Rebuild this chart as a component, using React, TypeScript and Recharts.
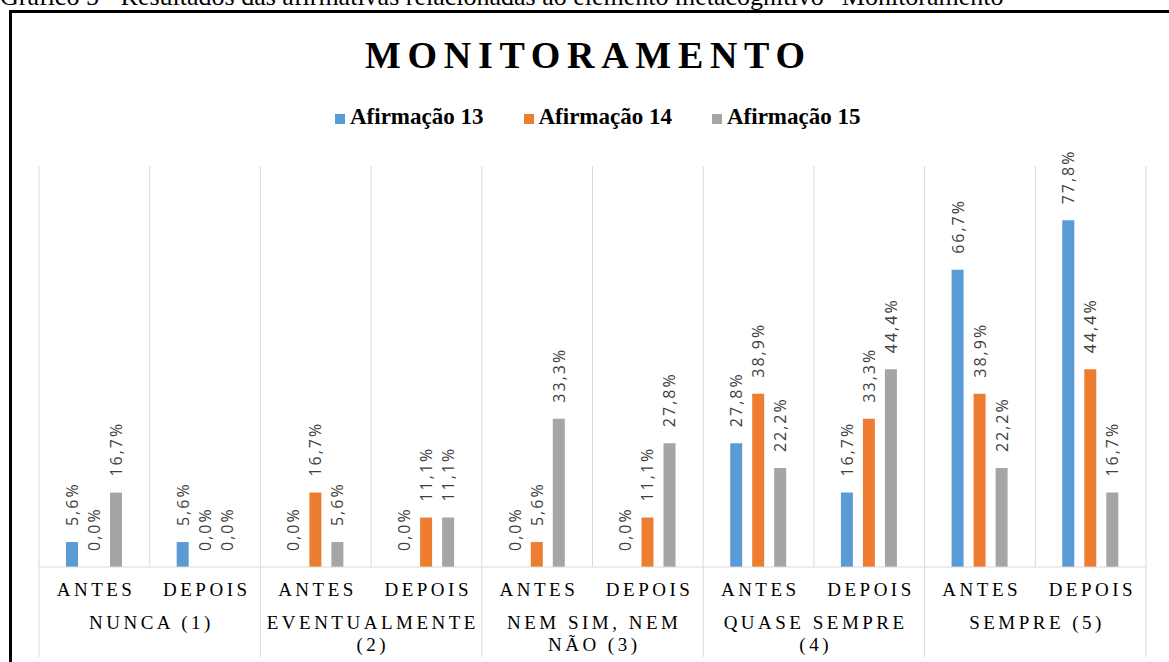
import { BarChart, Bar, XAxis, YAxis, CartesianGrid, Legend, LabelList } from 'recharts';

// categories (two-level axis)
const periods = ['ANTES', 'DEPOIS', 'ANTES', 'DEPOIS', 'ANTES', 'DEPOIS', 'ANTES', 'DEPOIS', 'ANTES', 'DEPOIS'];
const groupLines = [
    ['NUNCA (1)'],
    ['EVENTUALMENTE', '(2)'],
    ['NEM SIM, NEM', 'NÃO (3)'],
    ['QUASE SEMPRE', '(4)'],
    ['SEMPRE (5)'],
];

// series values (%)
const afirmacao13 = [5.6, 5.6, 0, 0, 0, 0, 27.8, 16.7, 66.7, 77.8];
const afirmacao14 = [0, 0, 16.7, 11.1, 5.6, 11.1, 38.9, 33.3, 38.9, 44.4];
const afirmacao15 = [16.7, 0, 5.6, 11.1, 33.3, 27.8, 22.2, 44.4, 22.2, 16.7];

const data = periods.map((period, i) => ({
    period,
    a13: afirmacao13[i],
    a14: afirmacao14[i],
    a15: afirmacao15[i],
}));

const W = 1169;
const H = 662;
const MARGIN = { top: 166, right: 23, bottom: 0, left: 39 };
const SERIF = "'Liberation Serif', 'Times New Roman', serif";
const GRID = '#d9d9d9';

const fmt = (v: number) => `${v.toFixed(1).replace('.', ',')}%`;

const ValueLabel = (props: any) => {
    const box = props.viewBox && props.viewBox.width !== undefined ? props.viewBox : props;
    const cx = Number(box.x) + Number(box.width) / 2;
    // zero bars get a tiny min height, so take the top of the rect
    const top = Math.min(Number(box.y), Number(box.y) + Number(box.height || 0));
    const ty = top - 16;
    return (
        <text
            x={cx}
            y={ty}
            transform={`rotate(-90 ${cx} ${ty})`}
            textAnchor="start"
            dominantBaseline="central"
            fill="#404040"
            fontSize={16}
            letterSpacing={2}
            fontFamily="'Open Sans', sans-serif"
        >
            {fmt(Number(props.value))}
        </text>
    );
};

const PeriodTick = (props: any) => {
    const { x, y, payload } = props;
    const i = payload.index ?? props.index;
    const plotW = W - MARGIN.left - MARGIN.right;
    const half = payload.offset || plotW / periods.length / 2;
    const first = i % 2 === 0;
    const last = i === periods.length - 1;
    const textStyle = { fontFamily: SERIF, fontSize: 19, letterSpacing: 3.5, fill: '#000' };
    return (
        <g>
            <text x={x + 1.75} y={y + 29} textAnchor="middle" {...textStyle}>
                {payload.value}
            </text>
            {first && <line x1={x - half} x2={x - half} y1={y} y2={y + 90} stroke={GRID} />}
            {last && <line x1={x + half} x2={x + half} y1={y} y2={y + 90} stroke={GRID} />}
            {first &&
                groupLines[i / 2].map((line, k) => (
                    <text key={k} x={x + half + 1.75} y={y + 62 + k * 22} textAnchor="middle" {...textStyle}>
                        {line}
                    </text>
                ))}
        </g>
    );
};

const LegendContent = (props: any) => (
    <div style={{ display: 'flex', gap: 40, fontFamily: SERIF, fontWeight: 700, fontSize: 23, lineHeight: '23px', color: '#000', whiteSpace: 'nowrap' }}>
        {(props.payload || []).map((entry: any) => (
            <div key={entry.value} style={{ display: 'flex', alignItems: 'center' }}>
                <span style={{ display: 'inline-block', width: 10, height: 10, background: entry.color, marginRight: 5, position: 'relative', top: 2 }} />
                <span>{entry.value}</span>
            </div>
        ))}
    </div>
);

export default function App() {
    return (
        <div style={{ position: 'absolute', left: 0, top: 0, width: W, height: H, overflow: 'hidden', background: '#fff' }}>
            <div style={{ position: 'absolute', left: 0, top: -16, fontFamily: SERIF, fontSize: 26, lineHeight: '26px', whiteSpace: 'nowrap', color: '#000' }}>
                Gráfico 5 - Resultados das afirmativas relacionadas ao elemento metacognitivo “Monitoramento”
            </div>
            <div style={{ position: 'absolute', left: 9, top: 10, width: 1300, height: 800, borderTop: '3px solid #000', borderLeft: '3px solid #000' }} />
            <div style={{ position: 'absolute', left: 365, top: 36, fontFamily: SERIF, fontWeight: 700, fontSize: 38, lineHeight: '38px', letterSpacing: 6.7, whiteSpace: 'nowrap', color: '#000' }}>
                MONITORAMENTO
            </div>
            <div style={{ position: 'absolute', left: 0, top: 0 }}>
                <BarChart width={W} height={H} data={data} margin={MARGIN} barSize={12} barGap={10}>
                    <CartesianGrid
                        horizontal={false}
                        stroke={GRID}
                        verticalCoordinatesGenerator={({ offset }: any) =>
                            Array.from({ length: periods.length + 1 }, (_, k) => offset.left + (k * offset.width) / periods.length)
                        }
                    />
                    <XAxis
                        dataKey="period"
                        height={95}
                        interval={0}
                        tickLine={false}
                        tickSize={0}
                        tickMargin={0}
                        axisLine={{ stroke: GRID }}
                        tick={<PeriodTick />}
                    />
                    <YAxis hide domain={[0, 90]} />
                    <Legend
                        verticalAlign="middle"
                        align="center"
                        wrapperStyle={{ top: 105, left: 335, width: 560 }}
                        content={<LegendContent />}
                    />
                    <Bar dataKey="a13" name="Afirmação 13" fill="#5b9bd5" minPointSize={0.01} isAnimationActive={false}>
                        <LabelList dataKey="a13" content={<ValueLabel />} />
                    </Bar>
                    <Bar dataKey="a14" name="Afirmação 14" fill="#ed7d31" minPointSize={0.01} isAnimationActive={false}>
                        <LabelList dataKey="a14" content={<ValueLabel />} />
                    </Bar>
                    <Bar dataKey="a15" name="Afirmação 15" fill="#a5a5a5" minPointSize={0.01} isAnimationActive={false}>
                        <LabelList dataKey="a15" content={<ValueLabel />} />
                    </Bar>
                </BarChart>
            </div>
        </div>
    );
}
